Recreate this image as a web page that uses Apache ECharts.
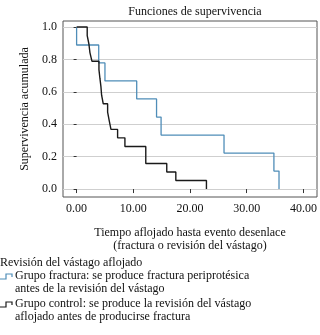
<!DOCTYPE html>
<html>
<head>
<meta charset="utf-8">
<script src="https://cdn.jsdelivr.net/npm/echarts@6/dist/echarts.min.js"></script>
<style>
  html, body { margin: 0; padding: 0; background: #fff; }
  #chart { width: 320px; height: 335px; }
</style>
</head>
<body>
<div id="chart"></div>
<script>
// Kaplan-Meier steps: time of event and survival after it
const fracturaTimes = [0, 0, 3.9, 5.0, 10.6, 14.1, 14.9, 26.0, 34.8, 35.7];
const fracturaSurv = [1, 0.889, 0.778, 0.667, 0.556, 0.444, 0.333, 0.222, 0.111, 0];

const controlTimes = [0, 1.87, 2.17, 2.35, 2.7, 3.94, 4.11, 4.29, 4.41, 4.7, 5.47, 5.76, 6.06, 7.23, 8.52, 12.2, 15.9, 17.5, 22.9];
const controlSurv = [1, 0.947, 0.895, 0.842, 0.789, 0.737, 0.684, 0.632, 0.579, 0.526, 0.474, 0.421, 0.368, 0.316, 0.263, 0.158, 0.105, 0.053, 0];

const xTicks = [0, 10, 20, 30, 40];
const yTicks = [0, 0.2, 0.4, 0.6, 0.8, 1.0];

const serif = '"Liberation Serif", "DejaVu Serif", serif';
const blue = '#4f8db8';
const black = '#1a1a1a';

const zip = (xs, ys) => xs.map((x, i) => [x, ys[i]]);

const chart = echarts.init(document.getElementById('chart'));

chart.setOption({
  animation: false,
  title: {
    text: 'Funciones de supervivencia',
    left: 190,
    textAlign: 'center',
    top: 1,
    textStyle: { fontFamily: serif, fontSize: 12, fontWeight: 'normal', color: '#111' },
  },
  grid: {
    left: 63, right: 3, top: 21, bottom: 138,
    show: true, borderColor: '#555', borderWidth: 1, backgroundColor: '#fff',
  },
  xAxis: {
    type: 'value',
    min: -2.4,
    max: 42.4,
    axisLine: { show: false },
    axisTick: { show: true, customValues: xTicks, length: 4, lineStyle: { color: '#333' } },
    axisLabel: {
      customValues: xTicks,
      formatter: (v) => v.toFixed(2),
      fontFamily: serif, fontSize: 12, color: '#111', margin: 6,
    },
    splitLine: { show: false },
    name: 'Tiempo aflojado hasta evento desenlace\n(fractura o revisión del vástago)',
    nameLocation: 'middle',
    nameGap: 29,
    nameTextStyle: { fontFamily: serif, fontSize: 12, color: '#111', lineHeight: 13 },
  },
  yAxis: {
    type: 'value',
    min: -0.049,
    max: 1.037,
    axisLine: { show: false },
    axisTick: { show: true, customValues: yTicks, length: 3, lineStyle: { color: '#333' } },
    axisLabel: {
      customValues: yTicks,
      formatter: (v) => v.toFixed(1),
      fontFamily: serif, fontSize: 12, color: '#111', margin: 6,
    },
    splitLine: { show: true, lineStyle: { color: '#cfcfcf', width: 1 } },
    name: 'Supervivencia acumulada',
    nameLocation: 'middle',
    nameGap: 32,
    nameTextStyle: { fontFamily: serif, fontSize: 12, color: '#111' },
  },
  series: [
    {
      name: 'Grupo fractura',
      type: 'line',
      step: 'end',
      data: zip(fracturaTimes, fracturaSurv),
      showSymbol: false,
      lineStyle: { color: blue, width: 1.3 },
      z: 3,
    },
    {
      name: 'Grupo control',
      type: 'line',
      step: 'end',
      data: zip(controlTimes, controlSurv),
      showSymbol: false,
      lineStyle: { color: black, width: 1.4 },
      z: 4,
    },
  ],
  graphic: [
    {
      type: 'text', left: 0, top: 257,
      style: { text: 'Revisión del vástago aflojado', fontFamily: serif, fontSize: 12, fill: '#111' },
    },
    {
      type: 'polyline', shape: { points: [[0, 279], [6, 279], [6, 274], [12, 274], [12, 277]] },
      style: { stroke: blue, lineWidth: 1.2, fill: null },
    },
    {
      type: 'text', left: 15, top: 270,
      style: {
        text: 'Grupo fractura: se produce fractura periprotésica\nantes de la revisión del vástago',
        fontFamily: serif, fontSize: 12, lineHeight: 12.5, fill: '#111',
      },
    },
    {
      type: 'polyline', shape: { points: [[0, 307], [6, 307], [6, 302], [12, 302], [12, 305]] },
      style: { stroke: black, lineWidth: 1.2, fill: null },
    },
    {
      type: 'text', left: 15, top: 298,
      style: {
        text: 'Grupo control: se produce la revisión del vástago\naflojado antes de producirse fractura',
        fontFamily: serif, fontSize: 12, lineHeight: 12.5, fill: '#111',
      },
    },
  ],
});
</script>
</body>
</html>
